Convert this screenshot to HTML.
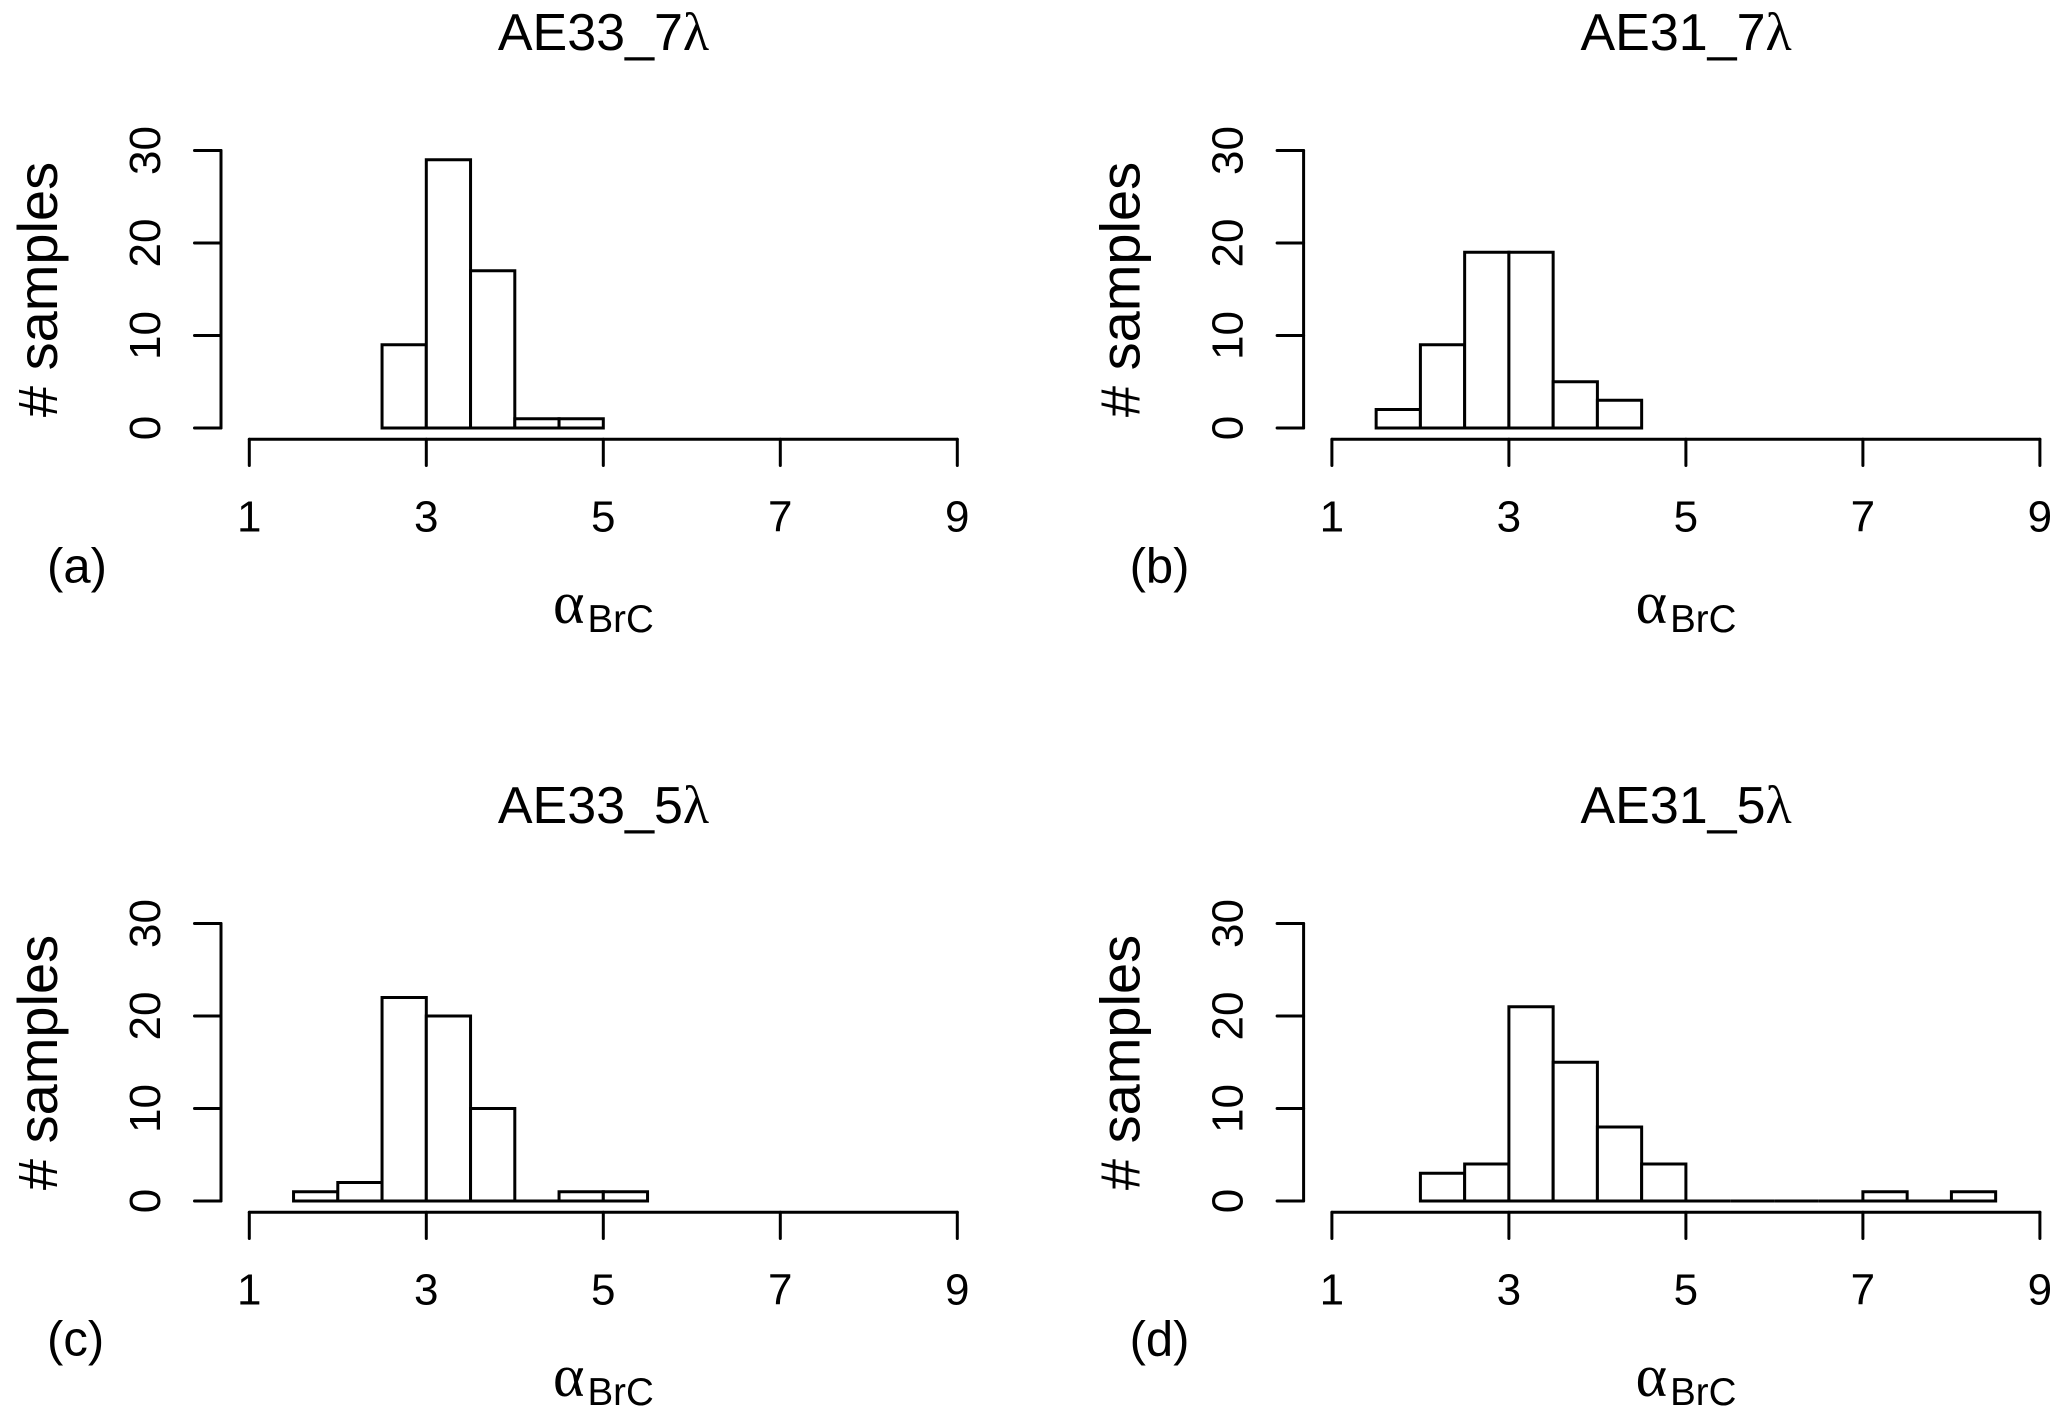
<!DOCTYPE html>
<html lang="en">
<head>
<meta charset="utf-8">
<title>Histograms of alpha BrC</title>
<style>
html,body{margin:0;padding:0;background:#fff;}
svg{display:block;}
text{font-family:"Liberation Sans",sans-serif;fill:#000;}
.greek{font-family:"Liberation Serif",serif;}
</style>
</head>
<body>
<svg id="chart" xmlns="http://www.w3.org/2000/svg" width="2067" height="1419" viewBox="0 0 2067 1419"></svg>
<script>
const panelIds = ["a", "b", "c", "d"];
const titlePrefixes = ["AE33_7", "AE31_7", "AE33_5", "AE31_5"];
const xTickLabels = [1, 3, 5, 7, 9];
const yTickLabels = [0, 10, 20, 30];
const binWidth = 0.5;
const binStartA = 2.5;
const binStartB = 1.5;
const binStartC = 1.5;
const binStartD = 2;
const countsA = [9, 29, 17, 1, 1];
const countsB = [2, 9, 19, 19, 5, 3];
const countsC = [1, 2, 22, 20, 10, 0, 1, 1];
const countsD = [3, 4, 21, 15, 8, 4, 0, 0, 0, 0, 1, 0, 1];
const binStarts = [binStartA, binStartB, binStartC, binStartD];
const panelCounts = [countsA, countsB, countsC, countsD];

const NS = "http://www.w3.org/2000/svg";
const svg = document.getElementById("chart");
const SW = 3;
const originsX = [0, 1082.6, 0, 1082.6];
const originsY = [0, 0, 773, 773];

function xScale(v) { return 249.3 + (v - 1) * 88.5; }
function yScale(v) { return 428 - v * 9.25; }

function make(tag, parent, attrs) {
  const el = document.createElementNS(NS, tag);
  for (const k in attrs) el.setAttribute(k, attrs[k]);
  parent.appendChild(el);
  return el;
}
function strokeLine(parent, x1, y1, x2, y2) {
  return make("line", parent, { x1, y1, x2, y2, stroke: "#000", "stroke-width": SW, "stroke-linecap": "round" });
}

panelIds.forEach(function (id, p) {
  const g = make("g", svg, { transform: "translate(" + originsX[p] + "," + originsY[p] + ")" });
  
  

  const title = make("text", g, { x: 603.5, y: 50, "text-anchor": "middle", "font-size": 52 });
  
  
  title.textContent = titlePrefixes[p];
  const lam = make("tspan", title, { class: "greek", "font-size": 54 });
  lam.textContent = "\u03BB";

  const bars = make("g", g, {});
  
  
  panelCounts[p].forEach(function (c, i) {
    const left = binStarts[p] + i * binWidth;
    const x0 = xScale(left);
    const x1 = xScale(left + binWidth);
    const y0 = yScale(0);
    const yc = yScale(c);
    const bar = make("path", bars, {
      d: "M" + x0 + " " + y0 + "L" + x0 + " " + yc + "L" + x1 + " " + yc + "L" + x1 + " " + y0 + "Z",
      fill: "#fff", stroke: "#000", "stroke-width": SW, "stroke-linejoin": "miter"
    });
    
    
  });

  const yAxis = make("g", g, {});
  
  
  strokeLine(yAxis, 221, yScale(yTickLabels[0]), 221, yScale(yTickLabels[yTickLabels.length - 1]));
  yTickLabels.forEach(function (t) {
    const yy = yScale(t);
    strokeLine(yAxis, 194.5, yy, 221, yy);
    const lbl = make("text", yAxis, { transform: "translate(160," + yy + ") rotate(-90)", "text-anchor": "middle", "font-size": 44 });
    
    
    lbl.textContent = t;
  });

  const xAxis = make("g", g, {});
  
  
  strokeLine(xAxis, xScale(xTickLabels[0]), 439.3, xScale(xTickLabels[xTickLabels.length - 1]), 439.3);
  xTickLabels.forEach(function (t) {
    const xx = xScale(t);
    strokeLine(xAxis, xx, 439.3, xx, 465.5);
    const lbl = make("text", xAxis, { x: xx, y: 531.5, "text-anchor": "middle", "font-size": 44 });
    
    
    lbl.textContent = t;
  });

  const yTitle = make("text", g, { transform: "translate(57,289.5) rotate(-90)", "text-anchor": "middle", "font-size": 56 });
  
  
  yTitle.textContent = "# samples";

  const xTitle = make("text", g, { x: 553, y: 623, "font-size": 60, class: "greek" });
  
  
  xTitle.textContent = "\u03B1";
  const sub = make("text", g, { x: 587.5, y: 632, "font-size": 38.5 });
  
  
  sub.textContent = "BrC";

  const tag = make("text", g, { x: 47, y: 582.7, "font-size": 49 });
  
  
  tag.textContent = "(" + id + ")";
});
</script>
</body>
</html>
